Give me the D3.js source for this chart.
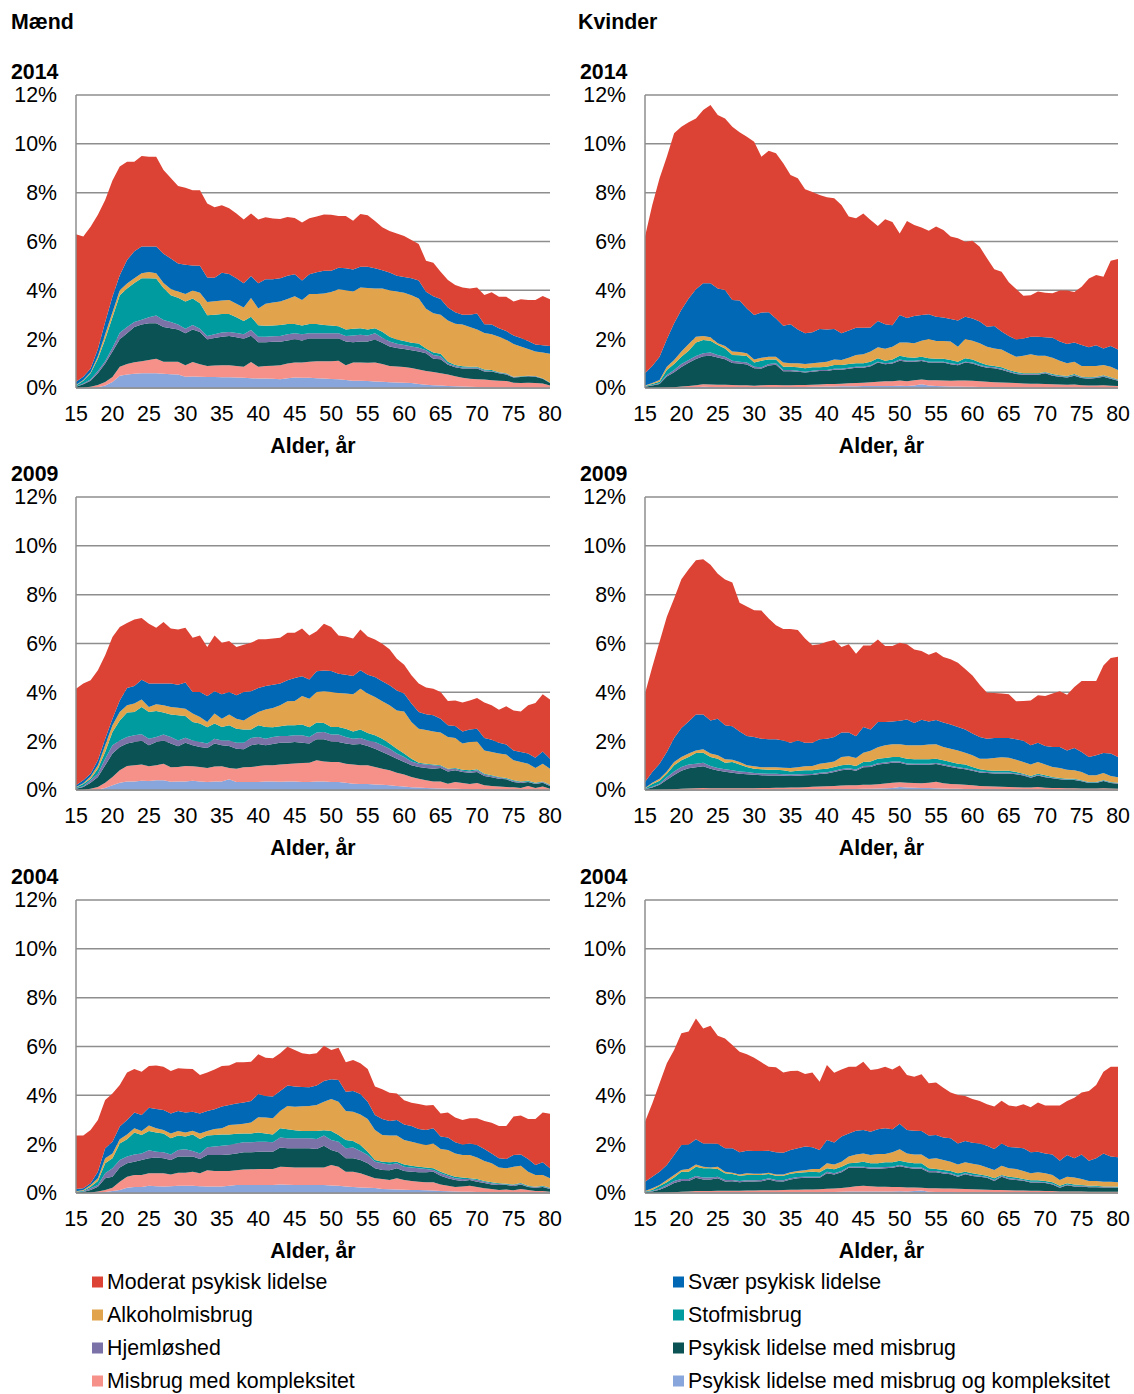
<!DOCTYPE html>
<meta charset="utf-8">
<style>
    html, body { margin: 0; padding: 0; background: #fff; }
    svg text { font-family: "Liberation Sans", Arial, sans-serif; fill: #000; font-size: 21.33px; }
</style>
<svg id="chart" width="1134" height="1394"></svg>
<script src="https://d3js.org/d3.v7.min.js"></script>
<script>
    // x categories and axis ticks
    const ages = [15,16,17,18,19,20,21,22,23,24,25,26,27,28,29,30,31,32,33,34,35,36,37,38,39,40,
        41,42,43,44,45,46,47,48,49,50,51,52,53,54,55,56,57,58,59,60,61,62,63,64,65,66,67,68,69,70,
        71,72,73,74,75,76,77,78,79,80];
    const xTicks = [15,20,25,30,35,40,45,50,55,60,65,70,75,80];
    const yTicks = [0,2,4,6,8,10,12];

    // stack order, bottom to top
    const seriesKeys = ["kompPsyk","misbKomp","psykMisb","hjeml","stof","alkohol","svaer","moderat"];
    const seriesNames = ["Psykisk lidelse med misbrug og kompleksitet","Misbrug med kompleksitet",
        "Psykisk lidelse med misbrug","Hjemløshed","Stofmisbrug","Alkoholmisbrug",
        "Svær psykisk lidelse","Moderat psykisk lidelse"];
    const seriesColors = ["#88a6dc","#f6918a","#0a5253","#7b72a8","#009b9e","#e1a44d","#0068b4","#dd4334"];

    // Mænd 2014 (% of age group)
    const M14_kompPsyk = [0,0,0,.03,.1,.25,.5,.55,.58,.6, .6,.6,.58,.56,.55,.46,.47,.46,.45,.45, .44,.44,.43,.42,.4,.39,.39,.38,.36,.4, .43,.42,.42,.4,.39,.37,.36,.33,.3,.3, .29,.27,.26,.24,.23,.22,.2,.16,.13,.11, .1,.08,.07,.06,.05,.04,.03,.03,.02,.02, .02,.02,.01,.01,.01,.01];
    const M14_misbKomp = [0,.02,.05,.09,.15,.2,.37,.43,.47,.5, .55,.6,.5,.52,.52,.47,.59,.51,.45,.47, .49,.49,.47,.45,.66,.48,.51,.53,.57,.6, .61,.62,.65,.7,.71,.73,.76,.6,.74,.74, .74,.77,.72,.66,.65,.64,.62,.6,.57,.55, .5,.47,.41,.36,.33,.32,.32,.29,.28,.27, .2,.18,.21,.19,.17,.09];
    const M14_psykMisb = [.05,.13,.25,.48,.75,1.05,1.13,1.26,1.45,1.5, 1.5,1.45,1.42,1.37,1.33,1.31,1.34,1.32,1.09,1.13, 1.17,1.2,1.18,1.15,1.08,1.0,.97,.98,.96,.95, .96,.91,.96,.93,.93,.93,.91,.97,.83,.86, .87,.95,.87,.8,.76,.74,.73,.73,.72,.54, .58,.4,.37,.38,.42,.44,.33,.36,.3,.26, .21,.25,.26,.26,.2,.1];
    const M14_hjeml = [.01,.03,.05,.1,.1,.15,.26,.26,.2,.2, .25,.32,.28,.25,.2,.19,.18,.14,.14,.15, .17,.16,.17,.18,.24,.23,.23,.23,.24,.25, .24,.25,.21,.21,.21,.21,.21,.23,.28,.28, .25,.25,.21,.2,.17,.16,.15,.16,.13,.15, .12,.05,.05,.04,.04,.04,.04,.02,.02,.03, .02,.01,.01,.02,.01,.02];
    const M14_stof = [.04,.12,.25,.5,.9,1.25,1.54,1.58,1.6,1.7, 1.6,1.51,1.32,1.1,1.1,1.11,1.09,1.04,.85,.8, .76,.74,.65,.54,.54,.47,.45,.44,.45,.42, .38,.36,.38,.38,.34,.32,.29,.27,.28,.27, .25,.21,.24,.2,.18,.17,.15,.17,.07,.1, .1,.08,.04,.05,.03,.03,.04,.04,.03,.02, .01,.02,.01,.01,.01,.01];
    const M14_alkohol = [.02,.03,.05,.1,.2,.2,.2,.2,.2,.2, .25,.22,.2,.25,.25,.31,.32,.43,.54,.55, .55,.57,.55,.56,.77,.69,.9,.94,.96,1.03, 1.14,1.04,1.23,1.23,1.29,1.37,1.51,1.6,1.52,1.67, 1.7,1.63,1.77,1.9,1.96,1.97,1.95,1.85,1.63,1.61, 1.6,1.68,1.69,1.71,1.63,1.53,1.49,1.46,1.45,1.38, 1.34,1.22,1.1,1.01,1.05,1.17];
    const M14_svaer = [.14,.13,.15,.3,.5,.65,.62,.96,1.1,1.1, 1.05,1.1,1.2,1.25,1.15,1.2,1.03,1.11,1.01,.97, 1.14,1.07,1.05,.99,.9,1.03,1.0,.95,.96,.95, .9,.8,.81,.89,.93,.87,.88,.9,.9,.85, .87,.82,.75,.73,.65,.65,.7,.73,.69,.7, .65,.54,.47,.4,.5,.65,.36,.4,.35,.35, .35,.35,.33,.28,.3,.32];
    const M14_moderat = [6.04,5.74,5.8,5.5,5.0,4.75,4.45,4.03,3.67,3.7, 3.67,3.67,3.43,3.3,3.17,3.15,3.08,3.09,3.03,2.88, 2.76,2.69,2.65,2.61,2.56,2.61,2.54,2.49,2.42,2.4, 2.3,2.38,2.29,2.28,2.31,2.3,2.12,2.14,2.0,2.16, 2.1,1.94,1.76,1.7,1.73,1.68,1.56,1.5,1.27,1.37, 1.11,1.12,1.12,1.12,1.08,1.07,1.2,1.32,1.29,1.41, 1.39,1.58,1.67,1.82,2.02,1.91];

    // Kvinder 2014
    const K14_kompPsyk = [0,0,0,0,0,.01,.02,.03,.05,.04, .03,.03,.03,.03,.03,.02,.03,.03,.03,.03, .03,.04,.04,.05,.05,.06,.06,.07,.07,.07, .08,.08,.08,.08,.08,.09,.08,.1,.15,.1, .08,.07,.06,.06,.05,.05,.04,.04,.04,.03, .03,.03,.02,.02,.02,.02,.02,.02,.02,.02, .01,.01,.01,.01,.01,.01];
    const K14_misbKomp = [0,0,.01,.02,.03,.05,.06,.08,.1,.1, .1,.1,.09,.08,.08,.07,.08,.09,.09,.08, .08,.08,.08,.08,.09,.1,.1,.1,.12,.13, .14,.16,.18,.2,.2,.22,.2,.22,.2,.22, .24,.24,.24,.25,.26,.25,.24,.22,.2,.2, .18,.17,.16,.15,.15,.14,.13,.12,.11,.12, .1,.09,.09,.1,.08,.07];
    const K14_psykMisb = [.05,.1,.15,.45,.61,.8,.95,1.08,1.15,1.18, 1.12,1.05,.9,.89,.85,.72,.69,.8,.83,.58, .58,.55,.51,.54,.56,.54,.59,.58,.6,.63, .61,.65,.78,.69,.72,.81,.8,.76,.76,.72, .72,.73,.67,.62,.73,.7,.62,.57,.57,.52, .45,.37,.36,.37,.37,.44,.35,.32,.3,.36, .3,.28,.31,.35,.29,.22];
    const K14_hjeml = [.01,.02,.03,.06,.1,.12,.12,.12,.12,.13, .1,.1,.1,.08,.08,.06,.05,.06,.06,.05, .05,.04,.04,.04,.04,.04,.04,.04,.04,.04, .04,.04,.04,.04,.04,.05,.04,.04,.04,.04, .04,.04,.04,.04,.04,.04,.04,.04,.04,.04, .04,.03,.03,.03,.03,.03,.03,.03,.03,.03, .03,.03,.03,.03,.03,.03];
    const K14_stof = [.02,.04,.07,.21,.24,.3,.38,.55,.55,.49, .41,.34,.23,.26,.27,.17,.27,.19,.16,.13, .13,.14,.14,.14,.11,.13,.15,.15,.15,.14, .14,.15,.14,.11,.13,.15,.14,.12,.13,.14, .12,.12,.14,.11,.14,.13,.1,.07,.05,.06, .04,.06,.03,.03,.03,.03,.04,.03,.03,.04, .02,.03,.02,.03,.03,.02];
    const K14_alkohol = [.02,.04,.07,.13,.17,.21,.27,.24,.16,.14, .07,.1,.14,.13,.11,.13,.12,.11,.11,.17, .14,.16,.17,.16,.19,.21,.23,.21,.26,.34, .37,.41,.45,.49,.52,.54,.6,.59,.66,.79, .72,.72,.75,.61,.79,.77,.79,.75,.72,.73, .68,.62,.72,.78,.72,.66,.67,.6,.52,.51, .44,.46,.44,.42,.43,.39];
    const K14_svaer = [.5,.7,.95,1.13,1.5,1.71,1.87,1.94,2.16,2.21, 2.25,2.29,2.11,2.11,1.84,1.82,1.85,1.82,1.57,1.51, 1.6,1.39,1.26,1.27,1.38,1.32,1.25,1.09,1.11,1.12, 1.09,.99,1.07,1.0,.88,1.13,1.01,1.12,1.05,1.01, 1.0,.97,.93,1.07,.91,.91,.89,.82,.92,.73, .71,.71,.71,.72,.78,.76,.82,.78,.79,.78, .86,.77,.85,.68,.85,.84];
    const K14_moderat = [5.6,6.6,7.31,7.47,7.78,7.5,7.21,7.0,7.1,7.3, 7.1,7.03,7.1,6.89,7.03,7.1,6.38,6.62,6.76,6.65, 6.11,6.19,5.9,5.75,5.48,5.41,5.35,5.26,4.67,4.48, 4.68,4.4,3.89,4.3,4.23,3.34,3.97,3.73,3.58,3.42, 3.69,3.58,3.37,3.37,3.07,3.18,3.07,2.8,2.32,2.45, 2.2,2.06,1.75,1.7,1.85,1.82,1.82,2.09,2.19,2.07, 2.39,2.81,2.88,2.94,3.49,3.7];

    // Mænd 2009
    const M09_kompPsyk = [0,0,0,.02,.08,.19,.3,.35,.35,.38, .37,.4,.4,.34,.35,.35,.38,.35,.33,.35, .35,.44,.33,.33,.33,.33,.35,.35,.34,.35, .35,.33,.33,.35,.35,.33,.33,.3,.26,.25, .25,.23,.22,.19,.16,.14,.11,.1,.08,.07, .06,.05,.05,.04,.03,.03,.03,.02,.02,.02, .02,.02,.02,.01,.01,.01];
    const M09_misbKomp = [0,.01,.05,.1,.22,.34,.51,.63,.66,.66, .6,.61,.68,.59,.59,.63,.59,.59,.57,.61, .62,.46,.54,.6,.61,.65,.66,.66,.7,.71, .74,.78,.79,.87,.82,.82,.82,.78,.78,.76, .76,.71,.65,.62,.55,.49,.42,.36,.32,.28, .29,.21,.28,.25,.22,.26,.16,.14,.12,.1, .09,.06,.14,.07,.13,.04];
    const M09_psykMisb = [.05,.11,.25,.41,.71,.96,.95,.92,.96,.98, .86,.96,.95,.97,.85,.96,.86,.82,.82,.94, .86,.9,.82,.74,.89,.9,.82,.87,.9,.88, .88,.83,.78,.86,.91,.84,.82,.82,.82,.87, .79,.75,.69,.61,.57,.52,.48,.48,.5,.52, .55,.5,.48,.45,.46,.45,.38,.36,.32,.32, .22,.21,.17,.17,.16,.11];
    const M09_hjeml = [.02,.03,.1,.14,.27,.34,.27,.27,.27,.26, .27,.2,.24,.27,.24,.2,.2,.21,.18,.2, .2,.23,.25,.27,.3,.29,.27,.29,.27,.27, .27,.3,.27,.27,.3,.28,.3,.27,.24,.25, .23,.28,.27,.27,.21,.2,.16,.14,.14,.14, .08,.09,.06,.05,.05,.07,.06,.05,.05,.02, .04,.04,.02,.02,.03,.03];
    const M09_stof = [.03,.1,.06,.2,.28,.55,.82,1.0,.95,1.12, 1.09,1.07,.9,.92,1.03,.89,.76,.75,.67,.62, .55,.62,.57,.54,.35,.48,.48,.4,.4,.44, .41,.44,.4,.41,.36,.31,.31,.34,.3,.35, .3,.27,.27,.21,.2,.14,.11,.04,.04,.03, .03,.02,.03,.04,.05,.04,.04,.03,.02,.03, .03,.02,.03,.03,.02,.03];
    const M09_alkohol = [.02,.03,.09,.14,.27,.27,.34,.3,.35,.31, .21,.27,.3,.31,.31,.3,.34,.27,.22,.41, .34,.44,.41,.37,.55,.54,.72,.79,.86,.98, 1.0,1.17,1.17,1.25,1.3,1.43,1.39,1.44,1.52,1.67, 1.62,1.57,1.53,1.57,1.57,1.73,1.51,1.39,1.38,1.36, 1.34,1.3,1.23,1.07,1.16,1.14,.95,.96,.96,.96, .82,.8,.7,.6,.73,.65];
    const M09_svaer = [.07,.12,.12,.21,.27,.27,.48,.71,.72,.81, .96,.85,.89,.96,.94,1.07,.88,1.02,1.06,.91, 1.0,.92,.96,1.16,1.01,.99,.96,.95,.89,.86, .94,.81,.79,.85,.85,.86,.79,.77,.75,.75, .77,.82,.82,.82,.82,.73,.75,.68,.64,.66, .57,.48,.49,.5,.51,.52,.51,.5,.45,.41, .4,.41,.41,.42,.5,.41];
    const M09_moderat = [3.96,3.96,3.83,3.68,3.42,3.35,3.01,2.66,2.72,2.52, 2.45,2.29,2.52,2.25,2.26,2.24,2.23,2.32,2.01,2.29, 2.11,2.09,1.98,1.94,1.99,1.99,1.91,1.89,1.88,1.95, 1.85,1.95,1.8,1.64,1.92,1.81,1.57,1.57,1.53,1.67, 1.57,1.53,1.54,1.47,1.3,1.18,1.16,1.17,1.1,1.09, 1.09,1.0,1.05,1.18,1.19,1.26,1.45,1.41,1.35,1.57, 1.64,1.66,1.98,2.24,2.34,2.43];

    // Kvinder 2009
    const K09_kompPsyk = [0,0,0,0,0,.01,.01,.01,.01,.01, .01,.01,.01,.01,.01,.01,.01,.01,.02,.02, .02,.02,.02,.03,.03,.03,.03,.04,.04,.04, .05,.05,.06,.07,.08,.12,.1,.09,.08,.08, .07,.06,.05,.05,.04,.04,.03,.03,.03,.02, .02,.02,.02,.02,.02,.01,.01,.01,.01,.01, .01,.01,.01,.01,.01,.01];
    const K09_misbKomp = [0,0,.01,.02,.03,.04,.05,.06,.07,.06, .06,.06,.06,.06,.06,.06,.07,.07,.07,.07, .08,.08,.09,.1,.11,.12,.13,.14,.15,.15, .16,.17,.18,.2,.22,.2,.2,.2,.2,.22, .27,.22,.2,.19,.17,.15,.13,.12,.11,.11, .1,.09,.08,.08,.1,.08,.07,.07,.06,.06, .05,.05,.05,.06,.05,.04];
    const K09_psykMisb = [.03,.1,.2,.4,.58,.74,.83,.86,.89,.8, .73,.68,.64,.6,.58,.55,.52,.51,.5,.49, .47,.48,.49,.48,.52,.53,.58,.63,.65,.6, .72,.72,.8,.8,.82,.8,.74,.74,.75,.73, .72,.72,.69,.65,.64,.6,.56,.55,.54,.55, .56,.53,.49,.4,.47,.43,.4,.36,.34,.34, .3,.23,.23,.3,.23,.21];
    const K09_hjeml = [.01,.03,.05,.1,.15,.15,.15,.15,.15,.11, .1,.1,.1,.09,.09,.08,.08,.08,.08,.07, .06,.06,.06,.05,.05,.05,.05,.05,.05,.05, .05,.05,.06,.06,.05,.05,.05,.05,.05,.05, .05,.05,.05,.04,.04,.04,.04,.04,.04,.04, .04,.04,.04,.03,.03,.03,.02,.02,.02,.02, .02,.02,.02,.02,.02,.02];
    const K09_stof = [.02,.12,.12,.15,.25,.28,.31,.44,.41,.37, .38,.27,.34,.28,.2,.17,.17,.16,.16,.16, .13,.15,.15,.15,.14,.14,.15,.15,.15,.14, .17,.18,.18,.18,.18,.18,.19,.18,.18,.18, .17,.17,.16,.15,.15,.11,.09,.07,.07,.07, .07,.06,.04,.04,.05,.05,.03,.03,.03,.03, .02,.02,.02,.02,.02,.02];
    const K09_alkohol = [.02,.05,.08,.09,.14,.13,.14,.1,.14,.14, .14,.14,.09,.11,.07,.1,.08,.1,.1,.1, .14,.14,.16,.17,.23,.25,.23,.34,.34,.33, .38,.44,.47,.52,.52,.52,.55,.57,.57,.6, .59,.54,.54,.54,.49,.48,.43,.47,.52,.55, .53,.5,.48,.47,.48,.44,.41,.41,.37,.35, .34,.27,.27,.29,.24,.22];
    const K09_svaer = [.25,.44,.62,.8,.98,1.19,1.32,1.47,1.42,1.36, 1.5,1.39,1.37,1.25,1.2,1.2,1.17,1.15,1.15,1.12, 1.04,1.1,.97,.96,1.0,.98,1.0,1.0,.97,.89, 1.05,.87,1.04,.96,.94,.97,1.06,.91,1.05,.95, 1.0,1.0,.99,.96,.95,.89,.89,.82,.82,.79, .81,.84,.87,.79,.79,.76,.82,.86,.79,.91, .82,.75,.82,.82,.92,.83];
    const K09_moderat = [3.62,4.3,4.99,5.54,5.71,6.09,6.23,6.32,6.36,6.38, 5.94,5.97,5.89,5.27,5.31,5.19,5.25,4.94,4.67,4.56, 4.65,4.52,4.26,3.99,3.89,3.97,3.97,3.51,3.62,3.38, 3.34,3.44,3.37,3.11,3.09,3.19,3.08,3.01,2.81,2.73, 2.78,2.69,2.67,2.63,2.48,2.38,2.14,1.88,1.84,1.82, 1.79,1.55,1.63,1.84,1.94,2.05,2.19,2.28,2.28,2.5, 2.9,3.11,3.04,3.58,3.92,4.11];

    // Mænd 2004
    const M04_kompPsyk = [0,0,0,.01,.04,.08,.12,.22,.25,.25, .3,.28,.27,.28,.3,.3,.3,.28,.27,.27, .27,.3,.33,.33,.33,.33,.33,.33,.35,.34, .33,.33,.33,.33,.33,.31,.3,.27,.25,.23, .22,.2,.16,.15,.14,.13,.12,.12,.11,.1, .08,.07,.06,.05,.05,.04,.04,.03,.03,.03, .02,.02,.02,.02,.02,.02];
    const M04_misbKomp = [0,0,.02,.05,.08,.14,.34,.45,.49,.49, .51,.53,.54,.48,.53,.53,.57,.53,.66,.63, .63,.6,.6,.63,.64,.65,.65,.65,.73,.72, .71,.71,.71,.71,.71,.84,.78,.6,.62,.58, .49,.4,.41,.38,.46,.4,.37,.34,.33,.34, .27,.23,.19,.22,.25,.21,.15,.13,.09,.11, .09,.14,.1,.06,.06,.03];
    const M04_psykMisb = [.02,.04,.1,.2,.48,.45,.58,.55,.54,.61, .61,.64,.61,.59,.66,.66,.62,.58,.63,.66, .66,.68,.69,.71,.7,.71,.71,.71,.78,.77, .79,.79,.79,.76,.9,.61,.59,.55,.55,.54, .51,.41,.37,.4,.41,.37,.38,.39,.41,.43, .36,.3,.28,.22,.23,.21,.22,.19,.21,.19, .18,.19,.13,.14,.17,.11];
    const M04_hjeml = [.01,.02,.07,.07,.21,.34,.31,.27,.3,.27, .33,.24,.25,.23,.27,.3,.23,.23,.31,.34, .38,.39,.41,.41,.41,.41,.41,.39,.41,.41, .41,.41,.41,.41,.41,.41,.43,.41,.44,.37, .34,.27,.28,.24,.21,.18,.17,.16,.13,.07, .1,.11,.07,.08,.04,.07,.05,.05,.04,.02, .04,.03,.02,.03,.02,.03];
    const M04_stof = [.02,.03,.07,.16,.41,.41,.68,.71,.9,.76, .79,.79,.77,.66,.59,.52,.68,.59,.48,.48, .46,.43,.4,.36,.36,.38,.34,.32,.38,.37, .33,.3,.3,.33,.22,.37,.28,.34,.27,.25, .13,.07,.06,.09,.06,.09,.08,.07,.06,.07, .06,.05,.07,.06,.03,.04,.03,.04,.03,.03, .02,.03,.03,.01,.03,.03];
    const M04_alkohol = [.02,.03,.07,.11,.2,.2,.17,.2,.17,.16, .22,.17,.14,.2,.19,.17,.15,.23,.19,.24, .25,.39,.38,.4,.45,.62,.65,.66,.71,.95, .96,1.01,1.02,1.06,1.17,1.31,1.36,1.19,1.2,1.25, 1.34,1.23,1.1,1.09,1.07,1.0,.98,.95,.93,1.02, .93,1.0,.95,.93,.96,.88,.82,.78,.64,.63, .73,.71,.57,.48,.44,.38];
    const M04_svaer = [.09,.07,.07,.27,.41,.48,.52,.59,.65,.65, .73,.79,.82,.82,.82,.82,.78,.82,.82,.81, .89,.81,.86,.87,.88,.95,.88,.89,.82,.84, .83,.79,.77,.8,.85,.81,.89,.79,.85,.83, .71,.61,.65,.6,.64,.64,.64,.59,.61,.62, .51,.51,.46,.43,.47,.52,.49,.4,.38,.38, .48,.46,.52,.41,.52,.41];
    const M04_moderat = [2.19,2.16,2.18,2.12,1.98,1.98,1.7,1.95,1.78,1.78, 1.71,1.78,1.77,1.74,1.75,1.79,1.75,1.57,1.58,1.63, 1.66,1.62,1.68,1.64,1.61,1.63,1.57,1.57,1.54,1.59, 1.5,1.38,1.35,1.32,1.44,1.2,1.32,1.2,1.27,1.26, 1.34,1.17,1.22,1.16,1.09,.99,.96,1.03,1.0,.95, .95,1.03,1.01,1.0,1.03,1.09,1.15,1.26,1.32,1.35, 1.57,1.59,1.64,1.88,2.04,2.24];

    // Kvinder 2004
    const K04_kompPsyk = [0,0,0,0,0,.01,.01,.02,.02,.02, .02,.02,.02,.02,.02,.02,.02,.02,.02,.03, .03,.03,.03,.03,.03,.04,.04,.05,.06,.06, .06,.06,.06,.06,.06,.07,.06,.08,.1,.05, .04,.04,.04,.03,.03,.03,.03,.03,.02,.02, .02,.02,.02,.02,.02,.02,.02,.01,.01,.01, .01,.01,.01,.01,.01,.01];
    const K04_misbKomp = [0,0,.01,.02,.03,.04,.05,.06,.06,.06, .07,.07,.07,.07,.08,.08,.09,.09,.09,.09, .1,.1,.11,.11,.12,.13,.14,.15,.18,.22, .24,.22,.2,.2,.19,.18,.17,.15,.12,.14, .15,.14,.14,.14,.13,.12,.11,.1,.1,.1, .09,.08,.08,.07,.07,.06,.06,.05,.05,.05, .05,.04,.04,.04,.04,.04];
    const K04_psykMisb = [.03,.06,.12,.24,.38,.44,.43,.54,.47,.47, .51,.38,.39,.35,.37,.37,.37,.44,.37,.35, .42,.47,.48,.48,.47,.64,.58,.65,.79,.75, .73,.71,.73,.75,.78,.85,.8,.76,.77,.66, .66,.62,.59,.5,.61,.55,.53,.49,.37,.55, .45,.43,.4,.34,.34,.33,.27,.16,.26,.21, .21,.19,.19,.18,.18,.16];
    const K04_hjeml = [.01,.02,.04,.07,.08,.08,.08,.08,.08,.08, .07,.06,.05,.05,.05,.05,.05,.05,.05,.05, .05,.06,.05,.05,.05,.06,.05,.05,.05,.05, .05,.05,.05,.05,.05,.05,.05,.05,.05,.05, .05,.05,.04,.04,.04,.04,.04,.04,.04,.04, .04,.04,.03,.03,.03,.03,.03,.03,.03,.03, .03,.03,.02,.02,.02,.02];
    const K04_stof = [.02,.04,.12,.11,.14,.3,.3,.38,.38,.38, .31,.28,.25,.22,.22,.22,.21,.18,.18,.19, .19,.17,.18,.2,.18,.14,.16,.18,.14,.16, .2,.18,.18,.2,.18,.17,.18,.18,.18,.11, .08,.09,.09,.1,.06,.07,.05,.05,.07,.03, .07,.06,.04,.06,.06,.05,.06,.05,.05,.05, .03,.03,.04,.02,.02,.03];
    const K04_alkohol = [.02,.07,.04,.09,.11,.07,.11,.09,.07,.03, .1,.06,.05,.05,.07,.05,.05,.05,.05,.05, .06,.07,.08,.11,.13,.21,.2,.2,.27,.34, .34,.34,.38,.34,.41,.47,.36,.36,.36,.38, .44,.41,.38,.36,.39,.39,.39,.33,.34,.38, .34,.35,.33,.29,.33,.32,.3,.23,.27,.28, .24,.19,.19,.19,.19,.18];
    const K04_svaer = [.38,.48,.54,.62,.82,1.03,1.01,1.03,.95,.99, .94,.96,1.0,.91,.92,.93,.93,.9,.91,.89, .91,.93,.97,.89,.78,.95,.9,1.03,.95,.97, .96,.95,1.01,1.05,.94,1.05,.96,.97,.96,.96, .96,.92,.96,.86,.87,.86,.88,.9,.86,.91, .87,.88,.93,.86,.84,.81,.84,.79,.89,.79, 1.01,.83,.93,1.16,1.03,1.02];
    const K04_moderat = [2.46,3.0,3.62,4.16,4.3,4.57,4.62,4.95,4.71,4.82, 4.42,4.5,4.23,4.12,3.95,3.82,3.63,3.44,3.48,3.29, 3.24,3.18,2.97,3.07,2.8,3.07,2.86,2.75,2.73,2.62, 2.8,2.53,2.47,2.52,2.45,2.38,2.25,2.21,2.32,2.14, 2.15,2.04,1.88,1.98,1.84,1.79,1.74,1.69,1.74,1.75, 1.7,1.68,1.8,1.84,2.02,1.96,2.0,2.26,2.21,2.48, 2.54,2.86,3.0,3.35,3.68,3.71];

    const panels = [
        {col: 0, row: 0, year: "2014", series: [M14_kompPsyk, M14_misbKomp, M14_psykMisb, M14_hjeml, M14_stof, M14_alkohol, M14_svaer, M14_moderat]},
        {col: 1, row: 0, year: "2014", series: [K14_kompPsyk, K14_misbKomp, K14_psykMisb, K14_hjeml, K14_stof, K14_alkohol, K14_svaer, K14_moderat]},
        {col: 0, row: 1, year: "2009", series: [M09_kompPsyk, M09_misbKomp, M09_psykMisb, M09_hjeml, M09_stof, M09_alkohol, M09_svaer, M09_moderat]},
        {col: 1, row: 1, year: "2009", series: [K09_kompPsyk, K09_misbKomp, K09_psykMisb, K09_hjeml, K09_stof, K09_alkohol, K09_svaer, K09_moderat]},
        {col: 0, row: 2, year: "2004", series: [M04_kompPsyk, M04_misbKomp, M04_psykMisb, M04_hjeml, M04_stof, M04_alkohol, M04_svaer, M04_moderat]},
        {col: 1, row: 2, year: "2004", series: [K04_kompPsyk, K04_misbKomp, K04_psykMisb, K04_hjeml, K04_stof, K04_alkohol, K04_svaer, K04_moderat]}
    ];

    // layout
    const colLeft = [76, 645],
        colWidth = [474, 473],
        rowTop = [95, 497, 900],
        plotHeight = 293,
        gridColor = "#8e8e8e";

    const svg = d3.select("#chart");

    svg.append("text").attr("x", 11).attr("y", 29)
        .style("font-weight", "bold").text("Mænd");
    svg.append("text").attr("x", 578).attr("y", 29)
        .style("font-weight", "bold").text("Kvinder");

    const stack = d3.stack().keys(seriesKeys);

    panels.forEach(p => {
        let x0 = colLeft[p.col],
            top = rowTop[p.row];

        let x = d3.scaleLinear().domain([15, 80]).range([x0, x0 + colWidth[p.col]]);
        let y = d3.scaleLinear().domain([0, 12]).range([top + plotHeight, top]);

        let g = svg.append("g");

        // gridlines behind the areas
        g.selectAll(".grid").data(yTicks).enter().append("line")
            .attr("x1", x0).attr("x2", x0 + colWidth[p.col])
            .attr("y1", d => y(d)).attr("y2", d => y(d))
            .attr("stroke", gridColor).attr("stroke-width", 1.5);

        let rows = ages.map((a, i) => {
            let r = {age: a};
            seriesKeys.forEach((k, j) => r[k] = p.series[j][i]);
            return r;
        });

        let area = d3.area()
            .x(d => x(d.data.age))
            .y0(d => y(d[0]))
            .y1(d => y(d[1]));

        g.selectAll(".layer").data(stack(rows)).enter().append("path")
            .attr("d", area)
            .attr("fill", (d, i) => seriesColors[i]);

        // axis lines on top
        g.append("line").attr("x1", x0).attr("x2", x0)
            .attr("y1", top).attr("y2", top + plotHeight)
            .attr("stroke", gridColor).attr("stroke-width", 1.5);
        g.append("line").attr("x1", x0).attr("x2", x0 + colWidth[p.col])
            .attr("y1", top + plotHeight).attr("y2", top + plotHeight)
            .attr("stroke", gridColor).attr("stroke-width", 1.5);

        g.selectAll(".ylab").data(yTicks).enter().append("text")
            .attr("x", x0 - 19).attr("y", d => y(d)).attr("dy", "0.35em")
            .attr("text-anchor", "end")
            .text(d => d + "%");

        g.selectAll(".xlab").data(xTicks).enter().append("text")
            .attr("x", d => x(d)).attr("y", top + plotHeight + 33)
            .attr("text-anchor", "middle")
            .text(d => d);

        g.append("text")
            .attr("x", x0 + colWidth[p.col] / 2).attr("y", top + plotHeight + 65)
            .attr("text-anchor", "middle").style("font-weight", "bold")
            .text("Alder, år");

        g.append("text")
            .attr("x", p.col === 0 ? 11 : 580).attr("y", top - 16)
            .style("font-weight", "bold")
            .text(p.year);
    });

    // legend: two columns, top series first
    const legendOrder = [7, 6, 5, 4, 3, 2, 1, 0];
    const legendX = [92, 673],
        legendY = [1282, 1315, 1348, 1381];

    let legend = svg.append("g");
    legendOrder.forEach((s, i) => {
        let lx = legendX[i % 2],
            ly = legendY[Math.floor(i / 2)];
        legend.append("rect")
            .attr("x", lx).attr("y", ly - 5.5).attr("width", 11).attr("height", 11)
            .attr("fill", seriesColors[s]);
        legend.append("text")
            .attr("x", lx + 15).attr("y", ly).attr("dy", "0.35em")
            .text(seriesNames[s]);
    });
</script>
